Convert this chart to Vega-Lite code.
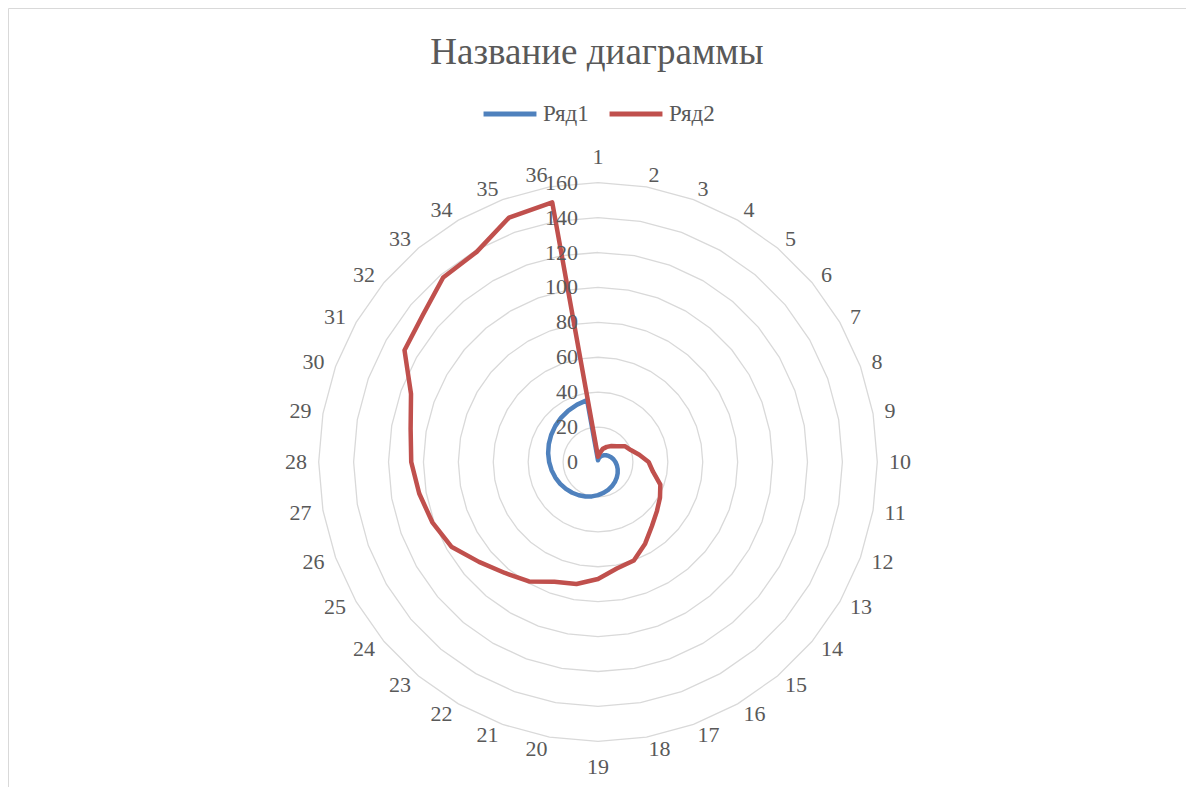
{
  "$schema": "https://vega.github.io/schema/vega-lite/v6.json",
  "width": 1178,
  "height": 779,
  "autosize": {"type": "none"},
  "padding": {"top": 8, "left": 8, "right": 0, "bottom": 0},
  "background": "white",
  "config": {"view": {"stroke": "#d9d9d9", "strokeWidth": 1}},
  "title": {
    "text": "Название диаграммы",
    "font": "Liberation Serif",
    "fontSize": 37,
    "fontWeight": "normal",
    "color": "#595959",
    "anchor": "middle",
    "frame": "group",
    "offset": -64
  },
  "datasets": {
    "series": [
      {"k": 1, "s": "Ряд1", "v": 1}, {"k": 2, "s": "Ряд1", "v": 2}, {"k": 3, "s": "Ряд1", "v": 3},
      {"k": 4, "s": "Ряд1", "v": 4}, {"k": 5, "s": "Ряд1", "v": 5}, {"k": 6, "s": "Ряд1", "v": 6},
      {"k": 7, "s": "Ряд1", "v": 7}, {"k": 8, "s": "Ряд1", "v": 8}, {"k": 9, "s": "Ряд1", "v": 9},
      {"k": 10, "s": "Ряд1", "v": 10}, {"k": 11, "s": "Ряд1", "v": 11}, {"k": 12, "s": "Ряд1", "v": 12},
      {"k": 13, "s": "Ряд1", "v": 13}, {"k": 14, "s": "Ряд1", "v": 14}, {"k": 15, "s": "Ряд1", "v": 15},
      {"k": 16, "s": "Ряд1", "v": 16}, {"k": 17, "s": "Ряд1", "v": 17}, {"k": 18, "s": "Ряд1", "v": 18},
      {"k": 19, "s": "Ряд1", "v": 19}, {"k": 20, "s": "Ряд1", "v": 20}, {"k": 21, "s": "Ряд1", "v": 21},
      {"k": 22, "s": "Ряд1", "v": 22}, {"k": 23, "s": "Ряд1", "v": 23}, {"k": 24, "s": "Ряд1", "v": 24},
      {"k": 25, "s": "Ряд1", "v": 25}, {"k": 26, "s": "Ряд1", "v": 26}, {"k": 27, "s": "Ряд1", "v": 27},
      {"k": 28, "s": "Ряд1", "v": 28}, {"k": 29, "s": "Ряд1", "v": 29}, {"k": 30, "s": "Ряд1", "v": 30},
      {"k": 31, "s": "Ряд1", "v": 31}, {"k": 32, "s": "Ряд1", "v": 32}, {"k": 33, "s": "Ряд1", "v": 33},
      {"k": 34, "s": "Ряд1", "v": 34}, {"k": 35, "s": "Ряд1", "v": 35}, {"k": 36, "s": "Ряд1", "v": 36},
      {"k": 1, "s": "Ряд2", "v": 3}, {"k": 2, "s": "Ряд2", "v": 5}, {"k": 3, "s": "Ряд2", "v": 8},
      {"k": 4, "s": "Ряд2", "v": 10}, {"k": 5, "s": "Ряд2", "v": 12}, {"k": 6, "s": "Ряд2", "v": 14},
      {"k": 7, "s": "Ряд2", "v": 18}, {"k": 8, "s": "Ряд2", "v": 20}, {"k": 9, "s": "Ряд2", "v": 24},
      {"k": 10, "s": "Ряд2", "v": 29}, {"k": 11, "s": "Ряд2", "v": 32}, {"k": 12, "s": "Ряд2", "v": 38},
      {"k": 13, "s": "Ряд2", "v": 41}, {"k": 14, "s": "Ряд2", "v": 44}, {"k": 15, "s": "Ряд2", "v": 48},
      {"k": 16, "s": "Ряд2", "v": 54}, {"k": 17, "s": "Ряд2", "v": 60}, {"k": 18, "s": "Ряд2", "v": 62},
      {"k": 19, "s": "Ряд2", "v": 67}, {"k": 20, "s": "Ряд2", "v": 71}, {"k": 21, "s": "Ряд2", "v": 73},
      {"k": 22, "s": "Ряд2", "v": 79}, {"k": 23, "s": "Ряд2", "v": 83}, {"k": 24, "s": "Ряд2", "v": 89},
      {"k": 25, "s": "Ряд2", "v": 97}, {"k": 26, "s": "Ряд2", "v": 101}, {"k": 27, "s": "Ряд2", "v": 104},
      {"k": 28, "s": "Ряд2", "v": 107}, {"k": 29, "s": "Ряд2", "v": 109}, {"k": 30, "s": "Ряд2", "v": 114},
      {"k": 31, "s": "Ряд2", "v": 128}, {"k": 32, "s": "Ряд2", "v": 131}, {"k": 33, "s": "Ряд2", "v": 138},
      {"k": 34, "s": "Ряд2", "v": 139}, {"k": 35, "s": "Ряд2", "v": 149}, {"k": 36, "s": "Ряд2", "v": 151}
    ],
    "grid": [
      {"level": 20, "k": [1,2,3,4,5,6,7,8,9,10,11,12,13,14,15,16,17,18,19,20,21,22,23,24,25,26,27,28,29,30,31,32,33,34,35,36]},
      {"level": 40, "k": [1,2,3,4,5,6,7,8,9,10,11,12,13,14,15,16,17,18,19,20,21,22,23,24,25,26,27,28,29,30,31,32,33,34,35,36]},
      {"level": 60, "k": [1,2,3,4,5,6,7,8,9,10,11,12,13,14,15,16,17,18,19,20,21,22,23,24,25,26,27,28,29,30,31,32,33,34,35,36]},
      {"level": 80, "k": [1,2,3,4,5,6,7,8,9,10,11,12,13,14,15,16,17,18,19,20,21,22,23,24,25,26,27,28,29,30,31,32,33,34,35,36]},
      {"level": 100, "k": [1,2,3,4,5,6,7,8,9,10,11,12,13,14,15,16,17,18,19,20,21,22,23,24,25,26,27,28,29,30,31,32,33,34,35,36]},
      {"level": 120, "k": [1,2,3,4,5,6,7,8,9,10,11,12,13,14,15,16,17,18,19,20,21,22,23,24,25,26,27,28,29,30,31,32,33,34,35,36]},
      {"level": 140, "k": [1,2,3,4,5,6,7,8,9,10,11,12,13,14,15,16,17,18,19,20,21,22,23,24,25,26,27,28,29,30,31,32,33,34,35,36]},
      {"level": 160, "k": [1,2,3,4,5,6,7,8,9,10,11,12,13,14,15,16,17,18,19,20,21,22,23,24,25,26,27,28,29,30,31,32,33,34,35,36]}
    ],
    "cats": [
      {"k": 1}, {"k": 2}, {"k": 3}, {"k": 4}, {"k": 5}, {"k": 6}, {"k": 7}, {"k": 8}, {"k": 9},
      {"k": 10}, {"k": 11}, {"k": 12}, {"k": 13}, {"k": 14}, {"k": 15}, {"k": 16}, {"k": 17}, {"k": 18},
      {"k": 19}, {"k": 20}, {"k": 21}, {"k": 22}, {"k": 23}, {"k": 24}, {"k": 25}, {"k": 26}, {"k": 27},
      {"k": 28}, {"k": 29}, {"k": 30}, {"k": 31}, {"k": 32}, {"k": 33}, {"k": 34}, {"k": 35}, {"k": 36}
    ],
    "ticks": [
      {"t": 0}, {"t": 20}, {"t": 40}, {"t": 60}, {"t": 80}, {"t": 100}, {"t": 120}, {"t": 140}, {"t": 160}
    ]
  },
  "layer": [
    {
      "data": {"name": "grid"},
      "transform": [
        {"flatten": ["k"]},
        {"calculate": "datum.level * sin((datum.k - 1) * PI / 18)", "as": "px"},
        {"calculate": "datum.level * cos((datum.k - 1) * PI / 18)", "as": "py"}
      ],
      "mark": {"type": "line", "interpolate": "linear-closed", "color": "#d9d9d9", "strokeWidth": 1.3},
      "encoding": {
        "x": {"field": "px", "type": "quantitative", "scale": {"domain": [-338.0, 336.85], "nice": false, "zero": false}, "axis": null},
        "y": {"field": "py", "type": "quantitative", "scale": {"domain": [-186.18, 260.08], "nice": false, "zero": false}, "axis": null},
        "detail": {"field": "level", "type": "nominal"},
        "order": {"field": "k", "type": "quantitative"}
      }
    },
    {
      "data": {"name": "cats"},
      "transform": [
        {"filter": "datum.k == 1 || datum.k == 19"},
        {"calculate": "174.7 * sin((datum.k - 1) * PI / 18)", "as": "px"},
        {"calculate": "174.7 * cos((datum.k - 1) * PI / 18)", "as": "py"}
      ],
      "mark": {"type": "text", "font": "Liberation Serif", "fontSize": 22, "color": "#595959", "align": "center", "baseline": "middle"},
      "encoding": {
        "x": {"field": "px", "type": "quantitative"},
        "y": {"field": "py", "type": "quantitative"},
        "text": {"field": "k", "type": "nominal"}
      }
    },
    {
      "data": {"name": "cats"},
      "transform": [
        {"filter": "datum.k > 1 && datum.k < 19"},
        {"calculate": "166.7 * sin((datum.k - 1) * PI / 18)", "as": "px"},
        {"calculate": "166.7 * cos((datum.k - 1) * PI / 18)", "as": "py"}
      ],
      "mark": {"type": "text", "font": "Liberation Serif", "fontSize": 22, "color": "#595959", "align": "left", "baseline": "middle"},
      "encoding": {
        "x": {"field": "px", "type": "quantitative"},
        "y": {"field": "py", "type": "quantitative"},
        "text": {"field": "k", "type": "nominal"}
      }
    },
    {
      "data": {"name": "cats"},
      "transform": [
        {"filter": "datum.k > 19"},
        {"calculate": "166.7 * sin((datum.k - 1) * PI / 18)", "as": "px"},
        {"calculate": "166.7 * cos((datum.k - 1) * PI / 18)", "as": "py"}
      ],
      "mark": {"type": "text", "font": "Liberation Serif", "fontSize": 22, "color": "#595959", "align": "right", "baseline": "middle"},
      "encoding": {
        "x": {"field": "px", "type": "quantitative"},
        "y": {"field": "py", "type": "quantitative"},
        "text": {"field": "k", "type": "nominal"}
      }
    },
    {
      "data": {"name": "series"},
      "transform": [
        {"calculate": "datum.v * sin((datum.k - 1) * PI / 18)", "as": "px"},
        {"calculate": "datum.v * cos((datum.k - 1) * PI / 18)", "as": "py"}
      ],
      "mark": {"type": "line", "interpolate": "linear-closed", "strokeWidth": 4.5, "strokeJoin": "round", "strokeCap": "round"},
      "encoding": {
        "x": {"field": "px", "type": "quantitative"},
        "y": {"field": "py", "type": "quantitative"},
        "order": {"field": "k", "type": "quantitative"},
        "color": {
          "field": "s", "type": "nominal",
          "scale": {"domain": ["Ряд1", "Ряд2"], "range": ["#4F81BD", "#C0504D"]},
          "legend": {
            "title": null,
            "orient": "none",
            "direction": "horizontal",
            "legendX": 473,
            "legendY": 77,
            "symbolType": "stroke",
            "symbolSize": 2800,
            "symbolStrokeWidth": 5,
            "labelFont": "Liberation Serif",
            "labelFontSize": 23,
            "labelColor": "#595959",
            "labelOffset": 4,
            "columnPadding": 10
          }
        }
      }
    },
    {
      "data": {"name": "ticks"},
      "mark": {"type": "text", "font": "Liberation Serif", "fontSize": 22, "color": "#595959", "align": "right", "baseline": "middle", "dx": -20},
      "encoding": {
        "x": {"datum": 0, "type": "quantitative"},
        "y": {"field": "t", "type": "quantitative"},
        "text": {"field": "t", "type": "quantitative"}
      }
    }
  ]
}
